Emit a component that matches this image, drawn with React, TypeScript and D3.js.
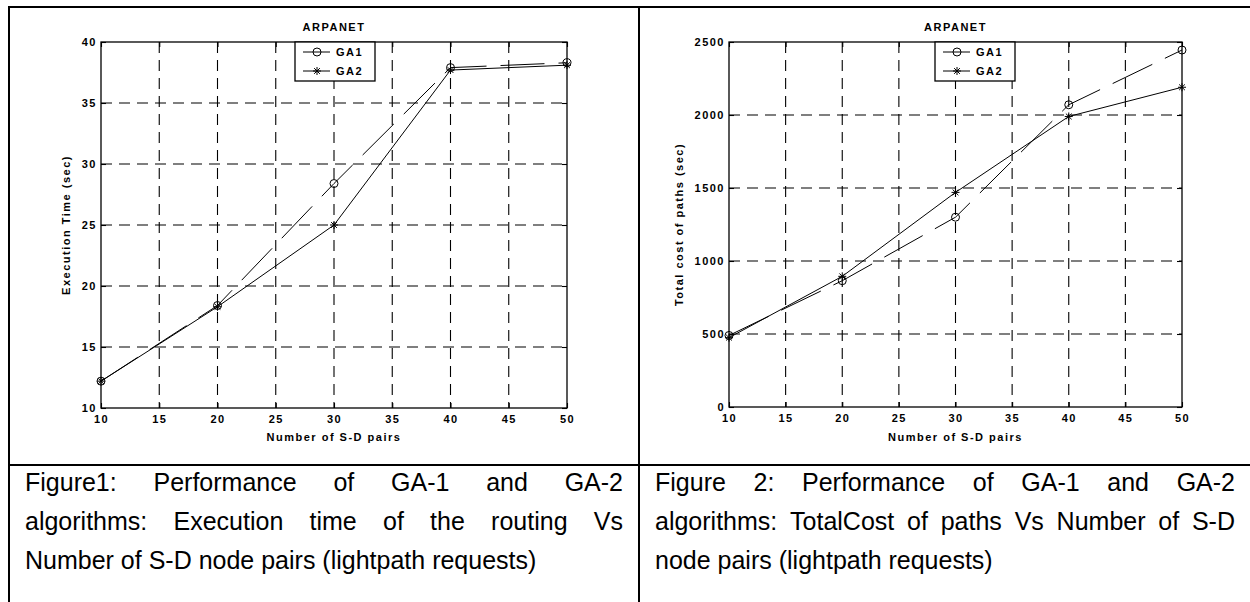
import { useEffect, useRef } from 'react'
import * as d3 from 'd3'

// x values (number of S-D pairs) and the two series of each figure
const pairs = [10, 20, 30, 40, 50]
const execGA1 = [12.2, 18.4, 28.4, 37.9, 38.3]
const execGA2 = [12.2, 18.3, 25.0, 37.7, 38.1]
const costGA1 = [490, 865, 1300, 2070, 2445]
const costGA2 = [475, 895, 1470, 1990, 2190]

const pairTicks = [10, 15, 20, 25, 30, 35, 40, 45, 50]
const execTicks = [10, 15, 20, 25, 30, 35, 40]
const costTicks = [0, 500, 1000, 1500, 2000, 2500]
const legendNames = ['GA1', 'GA2']

const caption1 = [
  'Figure1: Performance of GA-1 and GA-2',
  'algorithms: Execution time of the routing Vs',
  'Number of S-D node pairs (lightpath requests)',
]
const caption2 = [
  'Figure 2: Performance of GA-1 and GA-2',
  'algorithms: TotalCost of paths Vs Number of S-D',
  'node pairs (lightpath requests)',
]

const W = 1250
const H = 602
const FONT = '"Liberation Sans", Arial, Helvetica, sans-serif'

// matlab style asterisk
function star(cx: number, cy: number, r: number) {
  const d = r * 0.72
  return `M${cx - r},${cy}L${cx + r},${cy}M${cx},${cy - r}L${cx},${cy + r}` +
    `M${cx - d},${cy - d}L${cx + d},${cy + d}M${cx - d},${cy + d}L${cx + d},${cy - d}`
}

function boldText(sel: any) {
  return sel.attr('font-family', FONT).attr('font-size', 11).attr('font-weight', 'bold')
    .attr('letter-spacing', 1.5).attr('fill', '#000')
}

function drawChart(svg: any, opt: any) {
  const { left, right, top, bottom, yDomain, yTicks, ga1, ga2, yLabel, legendX, yLabelX } = opt
  const x = d3.scaleLinear().domain([10, 50]).range([left, right])
  const y = d3.scaleLinear().domain(yDomain).range([bottom, top])
  const g = svg.append('g')

  // dashed grid
  g.selectAll(null).data(pairTicks.slice(1, -1)).enter().append('line')
    .attr('x1', (d: number) => x(d)).attr('x2', (d: number) => x(d))
    .attr('y1', top).attr('y2', bottom)
    .attr('stroke', '#000').attr('stroke-width', 1.1).attr('stroke-dasharray', '11,7')
  g.selectAll(null).data(yTicks.slice(1, -1)).enter().append('line')
    .attr('x1', left).attr('x2', right)
    .attr('y1', (d: number) => y(d)).attr('y2', (d: number) => y(d))
    .attr('stroke', '#000').attr('stroke-width', 1.1).attr('stroke-dasharray', '11,7')

  // axes, ticks pointing inward
  const fmt = d3.format('d')
  const bx = g.append('g').attr('transform', `translate(0,${bottom})`)
    .call(d3.axisBottom(x).tickValues(pairTicks).tickFormat(fmt).tickSize(-5).tickSizeOuter(0).tickPadding(7.5))
  const tx = g.append('g').attr('transform', `translate(0,${top})`)
    .call(d3.axisTop(x).tickValues(pairTicks).tickSize(-5).tickSizeOuter(0).tickFormat(() => ''))
  const ly = g.append('g').attr('transform', `translate(${left},0)`)
    .call(d3.axisLeft(y).tickValues(yTicks).tickFormat(fmt).tickSize(-5).tickSizeOuter(0).tickPadding(4))
  const ry = g.append('g').attr('transform', `translate(${right},0)`)
    .call(d3.axisRight(y).tickValues(yTicks).tickSize(-5).tickSizeOuter(0).tickFormat(() => ''))
  ;[bx, tx, ly, ry].forEach(a => {
    a.select('.domain').remove()
    a.selectAll('line').attr('stroke-width', 1.1)
    boldText(a.selectAll('text'))
  })

  g.append('rect').attr('x', left).attr('y', top)
    .attr('width', right - left).attr('height', bottom - top)
    .attr('fill', 'none').attr('stroke', '#000').attr('stroke-width', 1.3)

  const line = d3.line<number>().x((_, i) => x(pairs[i])).y(d => y(d))
  g.append('path').attr('d', line(ga1)).attr('fill', 'none')
    .attr('stroke', '#000').attr('stroke-width', 1).attr('stroke-dasharray', '44,14')
  g.append('path').attr('d', line(ga2)).attr('fill', 'none')
    .attr('stroke', '#000').attr('stroke-width', 1)
  g.selectAll(null).data(ga1).enter().append('circle')
    .attr('cx', (_: number, i: number) => x(pairs[i])).attr('cy', (d: number) => y(d))
    .attr('r', 4).attr('fill', 'none').attr('stroke', '#000').attr('stroke-width', 1)
  g.selectAll(null).data(ga2).enter().append('path')
    .attr('d', (d: number, i: number) => star(x(pairs[i]), y(d), 4))
    .attr('stroke', '#000').attr('stroke-width', 1)

  // titles
  boldText(g.append('text')).attr('x', (left + right) / 2).attr('y', 31)
    .attr('text-anchor', 'middle').text('ARPANET')
  boldText(g.append('text')).attr('x', (left + right) / 2).attr('y', 441)
    .attr('text-anchor', 'middle').text('Number of S-D pairs')
  boldText(g.append('text'))
    .attr('transform', `translate(${yLabelX},${(top + bottom) / 2}) rotate(-90)`)
    .attr('text-anchor', 'middle').attr('dy', '0.35em').text(yLabel)

  // legend
  const lg = g.append('g').attr('transform', `translate(${legendX},${top})`)
  lg.append('rect').attr('width', 80).attr('height', 39)
    .attr('fill', '#fff').attr('stroke', '#000').attr('stroke-width', 1.3)
  legendNames.forEach((name, i) => {
    const yy = 10 + i * 19
    lg.append('line').attr('x1', 8).attr('x2', 35).attr('y1', yy).attr('y2', yy)
      .attr('stroke', '#000').attr('stroke-width', 1)
    if (i === 0) {
      lg.append('circle').attr('cx', 22).attr('cy', yy).attr('r', 4)
        .attr('fill', 'none').attr('stroke', '#000')
    } else {
      lg.append('path').attr('d', star(22, yy, 4)).attr('stroke', '#000')
    }
    boldText(lg.append('text')).attr('x', 41).attr('y', yy).attr('dy', '0.36em').text(name)
  })
}

// justified paragraph, last line left aligned
function drawCaption(svg: any, lines: string[], x0: number, x1: number, y0: number, lh: number) {
  const g = svg.append('g').attr('font-family', FONT).attr('font-size', 25).attr('fill', '#000')
  lines.forEach((ln, i) => {
    const yy = y0 + i * lh
    if (i === lines.length - 1) {
      g.append('text').attr('x', x0).attr('y', yy).text(ln)
      return
    }
    const words = ln.split(' ')
    const nodes = words.map(w => g.append('text').attr('y', yy).text(w))
    const widths = nodes.map(n => (n.node() as SVGTextElement).getComputedTextLength())
    const gap = (x1 - x0 - d3.sum(widths)) / (words.length - 1)
    let cx = x0
    nodes.forEach((n, k) => {
      n.attr('x', cx)
      cx += widths[k] + gap
    })
  })
}

export default function App() {
  const ref = useRef<SVGSVGElement>(null)

  useEffect(() => {
    const svg = d3.select(ref.current)
    svg.selectAll('*').remove()
    svg.append('rect').attr('width', W).attr('height', H).attr('fill', '#fff')

    // table borders
    const border = (x1: number, y1: number, x2: number, y2: number) =>
      svg.append('line').attr('x1', x1).attr('y1', y1).attr('x2', x2).attr('y2', y2)
        .attr('stroke', '#000').attr('stroke-width', 2)
    border(8, 7, W, 7)
    border(9, 6, 9, H)
    border(639, 6, 639, H)
    border(8, 465, W, 465)

    drawChart(svg, {
      left: 101, right: 567, top: 42, bottom: 408,
      yDomain: [10, 40], yTicks: execTicks, ga1: execGA1, ga2: execGA2,
      yLabel: 'Execution Time (sec)', yLabelX: 66, legendX: 295,
    })
    drawChart(svg, {
      left: 729, right: 1182, top: 42, bottom: 407,
      yDomain: [0, 2500], yTicks: costTicks, ga1: costGA1, ga2: costGA2,
      yLabel: 'Total cost of paths (sec)', yLabelX: 679, legendX: 935,
    })

    drawCaption(svg, caption1, 25, 623, 491, 39)
    drawCaption(svg, caption2, 655, 1235, 491, 39)
  }, [])

  return (
    <svg ref={ref} width={W} height={H}
      style={{ position: 'absolute', left: 0, top: 0, display: 'block' }} />
  )
}
